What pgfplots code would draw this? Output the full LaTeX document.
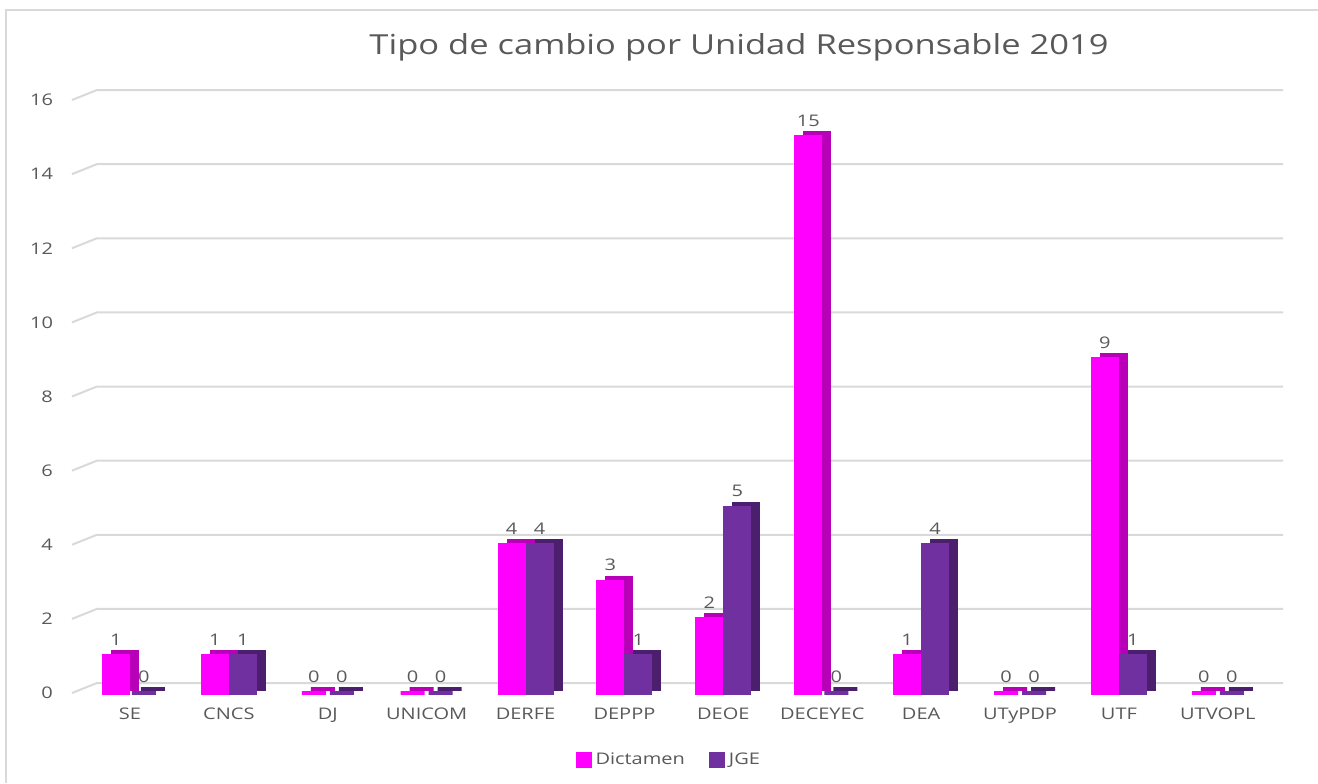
\documentclass[border=0pt]{standalone}
\usepackage{fontspec}
\setmainfont{Open Sans}[FakeStretch=1.25]
\usepackage{pgfplots}
\pgfplotsset{compat=1.18}
\definecolor{magF}{HTML}{FF00FF}
\definecolor{magS}{HTML}{B800B8}
\definecolor{purF}{HTML}{7030A0}
\definecolor{purS}{HTML}{4B1F6E}
\definecolor{txt}{HTML}{595959}
\definecolor{gridc}{HTML}{D9D9D9}
\begin{document}
\begin{tikzpicture}
\useasboundingbox (-36pt,-45pt) rectangle (623pt,346.5pt);
\draw[gridc, line width=1.2pt] (-33pt,-45pt) -- (-33pt,341.5pt) -- (623pt,341.5pt);
\begin{axis}[
  scale only axis,
  width=593pt, height=296.5pt,
  xmin=-0.586, xmax=11.406,
  ymin=0, ymax=16,
  ytick={0,2,...,16},
  xtick={0,...,11},
  xticklabels={SE,CNCS,DJ,UNICOM,DERFE,DEPPP,DEOE,DECEYEC,DEA,UTyPDP,UTF,UTVOPL},
  axis line style={draw=none},
  major tick length=0pt,
  tick label style={font=\fontsize{8}{9}\selectfont, text=txt},
  /pgf/number format/assume math mode=true,
  yticklabel style={anchor=east, xshift=-6pt},
  xticklabel style={anchor=north, yshift=-4pt},
  ybar, bar width=12pt,
  clip=false,
  legend style={draw=none, at={(0.504,-0.113)}, anchor=center, legend columns=2,
    font=\fontsize{8}{9}\selectfont, text=txt,
    /tikz/every even column/.append style={column sep=10pt}},
  legend image code/.code={\fill[#1] (0pt,-3pt) rectangle (6pt,3pt);},
  nodes near coords,
  every node near coord/.append style={font=\fontsize{8}{9}\selectfont, text=txt, yshift=1pt},
]
\pgfplotsinvokeforeach{0,2,...,16}{
  \draw[gridc, line width=1pt] (axis cs:-0.586,#1) -- ++(12.5pt,5pt) -- ([xshift=12.5pt,yshift=5pt]axis cs:11.406,#1);
}
% Dictamen
\addplot[fill=magS, draw=magS, line width=2pt, bar shift=-7pt, xshift=4.5pt, yshift=2pt, forget plot, nodes near coords=\empty] coordinates {
(0,1) (1,1) (2,0) (3,0) (4,4) (5,3) (6,2) (7,15) (8,1) (9,0) (10,9) (11,0)};
\addplot[fill=magF, draw=magF, line width=2pt, bar shift=-7pt] coordinates {
(0,1) (1,1) (2,0) (3,0) (4,4) (5,3) (6,2) (7,15) (8,1) (9,0) (10,9) (11,0)};
\addlegendentry{Dictamen}
% JGE
\addplot[fill=purS, draw=purS, line width=2pt, bar shift=7pt, xshift=4.5pt, yshift=2pt, forget plot, nodes near coords=\empty] coordinates {
(0,0) (1,1) (2,0) (3,0) (4,4) (5,1) (6,5) (7,0) (8,4) (9,0) (10,1) (11,0)};
\addplot[fill=purF, draw=purF, line width=2pt, bar shift=7pt] coordinates {
(0,0) (1,1) (2,0) (3,0) (4,4) (5,1) (6,5) (7,0) (8,4) (9,0) (10,1) (11,0)};
\addlegendentry{JGE}
\end{axis}
\node[text=txt, font=\fontsize{13.8}{16}\selectfont] at (333.5pt,323pt) {Tipo de cambio por Unidad Responsable 2019};
\end{tikzpicture}
\end{document}
